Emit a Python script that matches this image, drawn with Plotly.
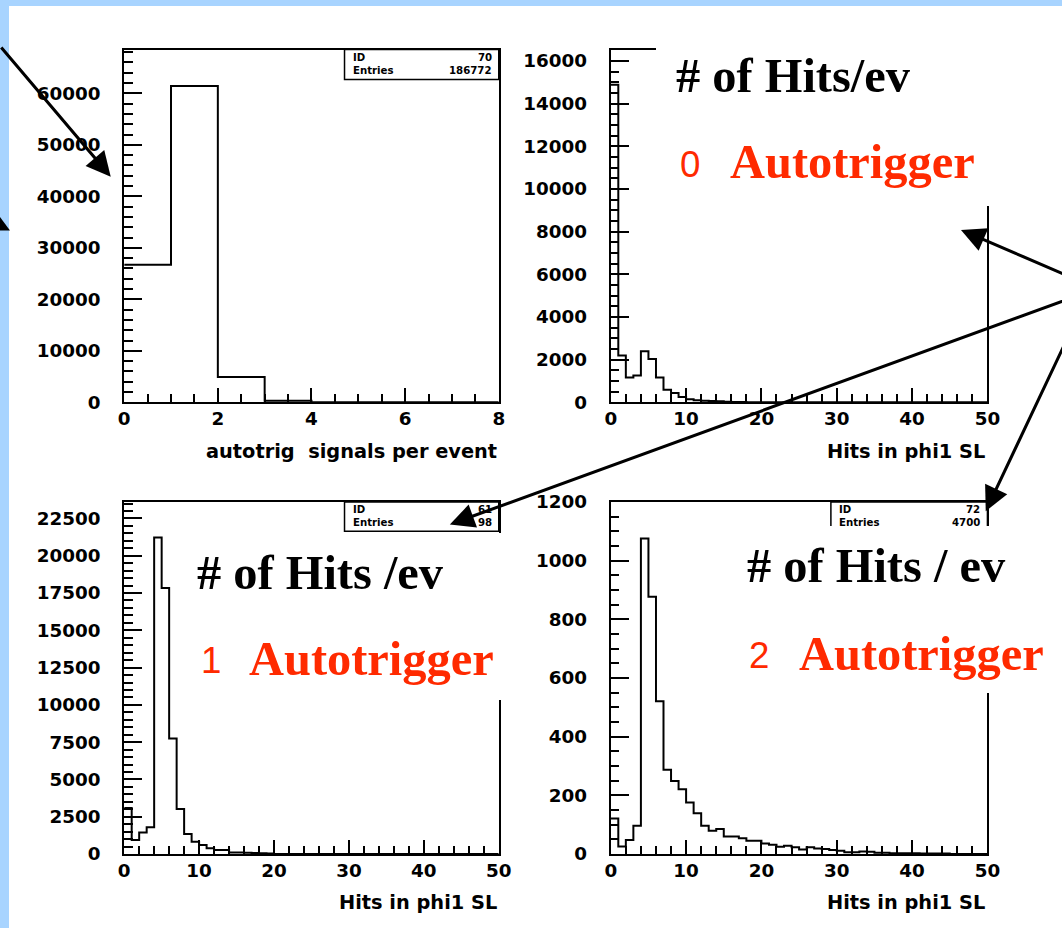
import plotly.graph_objects as go

# Positions below are given in reference-picture pixels and mapped to figure
# pixels with the linear relation measured between figure and returned picture.
AX, BX = 0.984, 5.0
AY, BY = 0.979, 9.1
K = 1 / 0.981                      # size factor for fonts / tick lengths
W, H = 1075, 939

# ---------------- data ----------------
autotrig_counts = [26700, 61400, 4900, 300, 0, 0, 0, 0]          # bins 0..8, width 1

hits0_counts = [14880, 2200, 1170, 1260, 2390, 2030, 1170, 590, 440, 250,
                150, 100, 80, 60, 50, 30, 20, 15, 10, 5,
                0, 0, 0, 0, 0, 0, 0, 0, 0, 0,
                0, 0, 0, 0, 0, 0, 0, 0, 0, 0,
                0, 0, 0, 0, 0, 0, 0, 0, 0, 0]

hits1_counts = [3080, 940, 1450, 1790, 21220, 17830, 7750, 3020, 1340, 830,
                600, 380, 270, 270, 110, 100, 80, 60, 50, 40,
                0, 0, 0, 0, 0, 0, 0, 0, 0, 0,
                0, 0, 0, 0, 0, 0, 0, 0, 0, 0,
                0, 0, 0, 0, 0, 0, 0, 0, 0, 0]

hits2_counts = [121, 26, 48, 96, 1075, 877, 521, 287, 249, 221,
                176, 139, 96, 79, 85, 60, 60, 54, 45, 45,
                36, 32, 25, 28, 23, 15, 23, 19, 17, 14,
                11, 6, 6, 9, 8, 4, 4, 3, 3, 3,
                3, 2, 2, 2, 2, 0, 0, 0, 0, 0]

x_titles = ["autotrig&nbsp; signals per event", "Hits in phi1 SL",
            "Hits in phi1 SL", "Hits in phi1 SL"]
stats_ids = ["70", "", "61", "72"]
stats_entries = ["186772", "", "98", "4700"]
big_titles = ["# of Hits/ev", "# of Hits /ev", "# of Hits / ev"]
trig_numbers = ["0", "1", "2"]
trig_word = "Autotrigger"

# ---------------- helpers ----------------
def fx(px):
    return ((px - BX) / AX) / W

def fy(py):
    return 1 - ((py - BY) / AY) / H

BLUE = "#a8d4ff"
RED = "#ff2a00"

# panel frames in picture pixels: (left, right, top, bottom)
frames = [(123.4, 498.6, 47.7, 401.0),
          (610.8, 988.1, 47.7, 401.0),
          (123.4, 498.6, 500.7, 853.3),
          (610.8, 988.1, 500.7, 853.3)]

yranges = [68500, 16530, 23610, 1200]
ydticks = [10000, 2000, 2500, 200]
yminor = [2000, 500, 500, 50]
xranges = [8, 50, 50, 50]
xdticks = [2, 10, 10, 10]
xminor = [0.5, 2, 2, 2]
all_counts = [autotrig_counts, hits0_counts, hits1_counts, hits2_counts]

fig = go.Figure()

for i, counts in enumerate(all_counts):
    edges = list(range(len(counts) + 1))
    ys = counts + [0]
    sfx = "" if i == 0 else str(i + 1)
    fig.add_trace(go.Scatter(
        x=edges, y=ys, mode="lines",
        line=dict(shape="hv", color="black", width=2),
        xaxis="x" + sfx, yaxis="y" + sfx, hoverinfo="skip", showlegend=False))

tickfont = dict(family="DejaVu Sans", size=18 * K, color="black", weight="bold")
layout_axes = {}
for i in range(4):
    l, r, t, b = frames[i]
    sfx = "" if i == 0 else str(i + 1)
    common = dict(showline=True, linecolor="black", linewidth=2, mirror=True,
                  ticks="inside", tickcolor="black", tickwidth=1.5,
                  showgrid=False, zeroline=False, tickfont=tickfont,
                  fixedrange=True, tickformat="d")
    layout_axes["xaxis" + sfx] = dict(
        common, domain=[fx(l), fx(r)], anchor="y" + sfx,
        range=[0, xranges[i]], dtick=xdticks[i], tick0=0, ticklen=14 * K,
        ticklabelstandoff=-1,
        minor=dict(dtick=xminor[i], tick0=0, ticks="inside", ticklen=8 * K,
                   tickwidth=1.5, tickcolor="black", showgrid=False))
    layout_axes["yaxis" + sfx] = dict(
        common, domain=[fy(b), fy(t)], anchor="x" + sfx,
        range=[0, yranges[i]], dtick=ydticks[i], tick0=0, ticklen=17.5 * K,
        ticklabelstandoff=18,
        minor=dict(dtick=yminor[i], tick0=0, ticks="inside", ticklen=8.5 * K,
                   tickwidth=1.5, tickcolor="black", showgrid=False))

shapes = [
    dict(type="rect", xref="paper", yref="paper", x0=fx(-4), x1=fx(8),
         y0=fy(940), y1=fy(-6), fillcolor=BLUE, line=dict(width=0),
         layer="above"),
    dict(type="rect", xref="paper", yref="paper", x0=fx(-4), x1=fx(1070),
         y0=fy(4), y1=fy(-6), fillcolor=BLUE, line=dict(width=0),
         layer="above"),
]

# stats boxes (left, right, top, bottom) for panels 1,3,4
stat_boxes = {0: (344.1, 498.6, 47.7, 77.7),
              2: (344.1, 498.6, 500.7, 530.0),
              3: (831.3, 988.1, 500.7, 531.0)}
annotations = []
sfont = dict(family="DejaVu Sans", size=10 * K, color="black", weight="bold")
for i, (l, r, t, b) in stat_boxes.items():
    shapes.append(dict(type="rect", xref="paper", yref="paper",
                       x0=fx(l), x1=fx(r), y0=fy(b), y1=fy(t),
                       fillcolor="white", line=dict(color="black", width=1.5),
                       layer="above"))
    annotations += [
        dict(x=fx(l + 6), y=fy(t + 8), xref="paper", yref="paper", text="ID",
             showarrow=False, xanchor="left", yanchor="middle", font=sfont),
        dict(x=fx(r - 5), y=fy(t + 8), xref="paper", yref="paper",
             text=stats_ids[i], showarrow=False, xanchor="right",
             yanchor="middle", font=sfont),
        dict(x=fx(l + 6), y=fy(t + 21), xref="paper", yref="paper",
             text="Entries", showarrow=False, xanchor="left",
             yanchor="middle", font=sfont),
        dict(x=fx(r - 5), y=fy(t + 21), xref="paper", yref="paper",
             text=stats_entries[i], showarrow=False, xanchor="right",
             yanchor="middle", font=sfont),
    ]

# white text boxes of the slide (left, right, top, bottom)
white_boxes = [(656.6, 1010, 30, 200), (178, 515, 531.5, 695),
               (700, 1050, 525, 688.3)]
for (l, r, t, b) in white_boxes:
    annotations.append(dict(
        x=fx(l), y=fy(t), xref="paper", yref="paper", text="&nbsp;",
        showarrow=False, xanchor="left", yanchor="top",
        width=(r - l) / AX, height=(b - t) / AY, bgcolor="white",
        borderpad=0, borderwidth=0, font=dict(size=4)))

# big slide texts: (x of title, baseline), (x of digit, baseline), (x of word, baseline)
big_pos = [((676.6, 89.5), (681.0, 175.9), (730.2, 176.2)),
           ((196.0, 587.0), (201.0, 672.6), (248.4, 673.8)),
           ((747.2, 580.0), (750.6, 667.1), (799.8, 668.5))]
SZ = 47.5
DZ = 36
for k in range(3):
    (tx, tb), (dx, db), (wx, wb) = big_pos[k]
    annotations.append(dict(
        x=fx(tx - 2), y=fy(tb - 0.3375 * SZ), xref="paper", yref="paper",
        text=big_titles[k], showarrow=False, xanchor="left", yanchor="middle",
        font=dict(family="Liberation Serif", size=SZ * K, color="black",
                  weight="bold")))
    annotations.append(dict(
        x=fx(dx - 3), y=fy(db - 0.35 * DZ), xref="paper", yref="paper",
        text=trig_numbers[k], showarrow=False, xanchor="left",
        yanchor="middle",
        font=dict(family="Liberation Sans", size=DZ * K, color=RED)))
    annotations.append(dict(
        x=fx(wx - 2), y=fy(wb - 0.3375 * SZ), xref="paper", yref="paper",
        text=trig_word, showarrow=False, xanchor="left", yanchor="middle",
        font=dict(family="Liberation Serif", size=SZ * K, color=RED,
                  weight="bold")))

# x-axis titles, right aligned at the axis end
tfont = dict(family="DejaVu Sans", size=19 * K, color="black", weight="bold")
title_pos = [(498.6, 456.7), (988.1, 456.7), (498.6, 908.3), (988.1, 908.3)]
for i, (rx, base) in enumerate(title_pos):
    annotations.append(dict(
        x=fx(rx), y=fy(base - 6.6), xref="paper", yref="paper",
        text=x_titles[i], showarrow=False, xanchor="right", yanchor="middle",
        font=tfont))

# arrows: head (picture px), tail offset (picture px)
arrows = [((109.9, 175.0), (-130, -128)),
          ((9.0, 229.0), (-40, -5)),
          ((961.6, 228.3), (138, 48)),
          ((449.6, 523.3), (650, -223)),
          ((986.4, 510.0), (114, -185))]
for (hx, hy), (ax, ay) in arrows:
    annotations.append(dict(
        x=fx(hx), y=fy(hy), xref="paper", yref="paper", text="",
        showarrow=True, ax=ax / AX, ay=ay / AY, axref="pixel", ayref="pixel",
        arrowhead=2, arrowsize=1.6, arrowwidth=3 * K, arrowcolor="black",
        standoff=0, startstandoff=0))

fig.update_layout(
    width=W, height=H, margin=dict(l=0, r=0, t=0, b=0),
    paper_bgcolor="white", plot_bgcolor="white", showlegend=False,
    shapes=shapes, annotations=annotations, **layout_axes)

fig.write_html("out.html")
